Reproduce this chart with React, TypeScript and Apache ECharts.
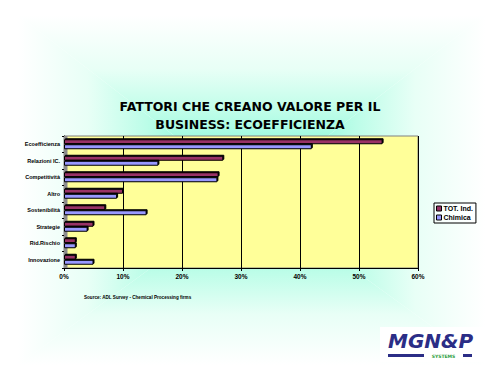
import React, { useEffect, useRef } from "react";
import * as echarts from "echarts";

const titleText = "FATTORI CHE CREANO VALORE PER IL\nBUSINESS: ECOEFFICIENZA";
const categories = [
  "Ecoefficienza",
  "Relazioni IC.",
  "Competitività",
  "Altro",
  "Sostenibilità",
  "Strategie",
  "Rid.Rischio",
  "Innovazione",
];
const seriesNames = ["TOT. Ind.", "Chimica"];
const totInd = [54, 27, 26.2, 10, 7, 5, 2, 2];
const chimica = [42, 16, 26, 9, 14, 4, 2, 5];
const xMin = 0;
const xMax = 60;
const xInterval = 10;
const sourceText = "Source: ADL Survey - Chemical Processing firms";
const logoText = "MGN&P";
const logoSub = "SYSTEMS";

const GRID = { left: 64, right: 82, top: 136, bottom: 102 };

function rectGradientPolys(x0: number, y0: number, x1: number, y1: number, cx: number, cy: number) {
  const stops = [
    { offset: 0, color: "#ffffff" },
    { offset: 0.3, color: "#e8fff6" },
    { offset: 0.55, color: "#bcfde8" },
    { offset: 0.78, color: "#8cf9d9" },
    { offset: 1, color: "#68f3cd" },
  ];
  const mk = (pts: number[][], gx0: number, gy0: number, gx1: number, gy1: number) => ({
    type: "polygon",
    silent: true,
    z: -100,
    shape: { points: pts },
    style: {
      fill: new echarts.graphic.LinearGradient(gx0, gy0, gx1, gy1, stops),
      stroke: null,
    },
  });
  return [
    mk([[x0, y0], [x1, y0], [cx, cy]], 0, 0, 0, 1),
    mk([[x0, y1], [x1, y1], [cx, cy]], 0, 1, 0, 0),
    mk([[x0, y0], [x0, y1], [cx, cy]], 0, 0, 1, 0),
    mk([[x1, y0], [x1, y1], [cx, cy]], 1, 0, 0, 0),
  ];
}

export default function App() {
  const ref = useRef<HTMLDivElement>(null);
  useEffect(() => {
    if (!ref.current) return;
    const chart = echarts.init(ref.current, null, { renderer: "svg" });
    const smallFont = "Liberation Sans";
    const option: any = {
      animation: false,
      backgroundColor: "#ffffff",
      title: {
        text: titleText,
        left: "center",
        top: 97,
        padding: 0,
        textStyle: {
          fontFamily: "DejaVu Sans",
          fontWeight: "bold",
          fontSize: 12.5,
          lineHeight: 18.5,
          color: "#000",
        },
      },
      legend: {
        orient: "vertical",
        left: 434,
        top: 203,
        itemWidth: 5,
        itemHeight: 5,
        itemGap: 2,
        padding: [2, 3, 2, 2],
        borderColor: "#000",
        borderWidth: 1,
        backgroundColor: "rgba(255,255,255,0.5)",
        icon: "rect",
        itemStyle: { borderColor: "#000", borderWidth: 1 },
        textStyle: {
          fontFamily: smallFont,
          fontWeight: "bold",
          fontSize: 7,
          color: "#000",
          padding: [0, 0, 0, -3],
        },
        data: seriesNames,
      },
      grid: {
        left: GRID.left,
        right: GRID.right,
        top: GRID.top,
        bottom: GRID.bottom,
        show: true,
        backgroundColor: "#ffff99",
        borderColor: "#808080",
        borderWidth: 1,
      },
      xAxis: {
        type: "value",
        min: xMin,
        max: xMax,
        interval: xInterval,
        axisLine: { show: true, lineStyle: { color: "#000", width: 1 } },
        axisTick: { show: true, length: 3, lineStyle: { color: "#000" } },
        splitLine: { show: true, lineStyle: { color: "#000", width: 1 } },
        axisLabel: {
          formatter: "{value}%",
          fontFamily: smallFont,
          fontWeight: "bold",
          fontSize: 6.5,
          color: "#000",
          margin: 5,
        },
      },
      yAxis: {
        type: "category",
        inverse: true,
        data: categories,
        axisLine: { show: true, lineStyle: { color: "#000", width: 1 } },
        axisTick: { show: true, length: 2, lineStyle: { color: "#000" } },
        axisLabel: {
          fontFamily: smallFont,
          fontWeight: "bold",
          fontSize: 5.5,
          color: "#000",
          margin: 4,
        },
      },
      series: [
        {
          name: seriesNames[0],
          type: "bar",
          data: totInd,
          barWidth: 5,
          barGap: "0%",
          z: 3,
          itemStyle: {
            color: "#993366",
            borderColor: "#000",
            borderWidth: 1,
            shadowColor: "#000",
            shadowOffsetX: 1,
            shadowOffsetY: -1,
          },
        },
        {
          name: seriesNames[1],
          type: "bar",
          data: chimica,
          barWidth: 5,
          barGap: "0%",
          z: 3,
          itemStyle: {
            color: "#9999ff",
            borderColor: "#000",
            borderWidth: 1,
            shadowColor: "#000",
            shadowOffsetX: 1,
            shadowOffsetY: -1,
          },
        },
      ],
      graphic: [
        ...rectGradientPolys(18, 15, 485, 365, 251, 195),
        {
          type: "rect",
          silent: true,
          z: 1,
          shape: { x: GRID.left, y: GRID.top, width: 3.5, height: 370 - GRID.top - GRID.bottom },
          style: { fill: "#8c8c8c", stroke: null },
        },
        {
          type: "text",
          silent: true,
          left: 84,
          top: 295,
          style: {
            text: sourceText,
            font: `bold 4.6px "${smallFont}"`,
            fill: "#000",
          },
        },
        {
          type: "group",
          silent: true,
          z: 10,
          children: [
            {
              type: "rect",
              shape: { x: 380, y: 327, width: 110, height: 35 },
              style: { fill: "#ffffff", stroke: null },
            },
            {
              type: "text",
              x: 388,
              y: 341,
              style: {
                text: logoText,
                font: 'italic 900 20px "DejaVu Sans"',
                lineHeight: 16,
                fill: "#2b2d86",
                verticalAlign: "middle",
              },
            },
            {
              type: "rect",
              shape: { x: 388, y: 354, width: 36, height: 3 },
              style: { fill: "#2b2d86", stroke: null },
            },
            {
              type: "text",
              x: 443.5,
              y: 356.5,
              style: {
                text: logoSub,
                font: 'bold 4.5px "DejaVu Sans"',
                lineHeight: 4.5,
                fill: "#2e9e3e",
                align: "center",
                verticalAlign: "middle",
              },
            },
            {
              type: "rect",
              shape: { x: 463, y: 354, width: 9, height: 3 },
              style: { fill: "#2b2d86", stroke: null },
            },
          ],
        },
      ],
    };
    chart.setOption(option);
    return () => chart.dispose();
  }, []);
  return (
    <div
      ref={ref}
      style={{ position: "absolute", left: 0, top: 0, width: 500, height: 370 }}
    />
  );
}
